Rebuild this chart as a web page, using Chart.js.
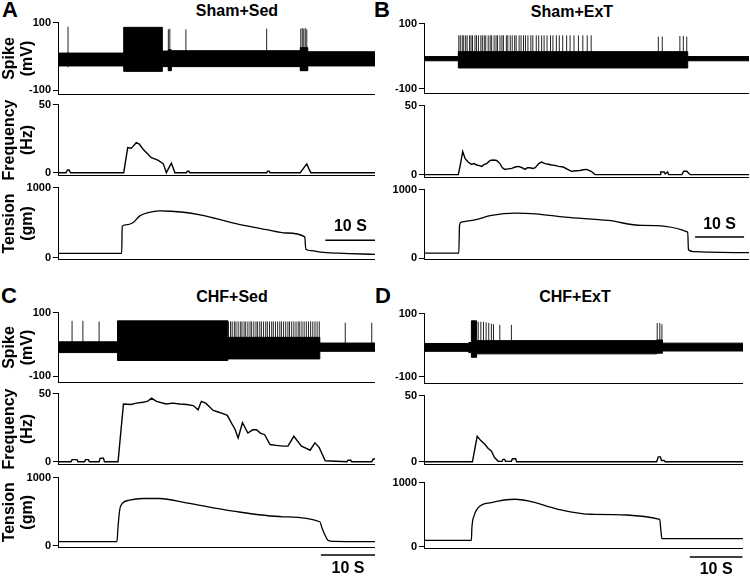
<!DOCTYPE html>
<html>
<head>
<meta charset="utf-8">
<script src="https://cdn.jsdelivr.net/npm/chart.js@4.4.1/dist/chart.umd.min.js"></script>
<style>
body { margin:0; background:#fff; width:750px; height:576px; position:relative; overflow:hidden; font-family:Arial,"Liberation Sans",sans-serif; }
canvas { position:absolute; }
.lbl { position:absolute; font-weight:bold; color:#000; white-space:nowrap; line-height:1; transform:translate(-50%,-50%); }
</style>
</head>
<body>
<div class="lbl" style="left:10px;top:10px;font-size:22px">A</div>
<div class="lbl" style="left:382px;top:10px;font-size:22px">B</div>
<div class="lbl" style="left:9px;top:296px;font-size:22px">C</div>
<div class="lbl" style="left:383px;top:296px;font-size:22px">D</div>
<div class="lbl" style="left:237px;top:11px;font-size:16px">Sham+Sed</div>
<div class="lbl" style="left:572px;top:12px;font-size:16px">Sham+ExT</div>
<div class="lbl" style="left:232px;top:297px;font-size:16px">CHF+Sed</div>
<div class="lbl" style="left:575px;top:297px;font-size:16px">CHF+ExT</div>
<script>
var FONT = 'Arial, "Liberation Sans", sans-serif';

// time (s), upper, lower edge of the raw nerve trace (mV)
var A_BAND = [[0,10,-28],[13.1,86,-44],[20.8,16,-30],[22.0,20,-42],[22.6,17,-30],[48.3,26,-42],[49.8,14,-28],[63.2,14,-28]];
var B_BAND = [[0,-1,-14],[7.0,14,-36],[53.8,-1,-14],[66.3,-1,-14]];
var C_BAND = [[0,8,-26],[11.0,74,-51],[31.4,22,-46],[48.4,4,-22],[58.6,4,-22]];
var D_BAND = [[0,5,-20],[8.5,8,-24],[9.0,77,-39],[10.0,14,-28],[44.2,16,-26],[45.3,6,-19],[60.6,6,-19]];

// single spikes: time (s), top, bottom (mV)
var A_SPIKES = [[2.0,88,-32],[22.0,80,-42],[22.3,82,-42],[25.5,80,-30],[41.6,82,-30],[48.4,82,-42],[48.7,84,-42],[49.0,82,-42],[49.3,84,-42],[49.6,80,-42]];
var B_SPIKES = [[7.1,64],[7.4,64],[7.8,64],[8.1,64],[8.5,64],[8.8,64],[9.3,64],[9.6,64],[9.9,64],[10.4,64],[10.7,64],[11.1,64],[11.6,64],[11.9,64],[12.3,64],[12.6,64],[13.1,64],[13.5,64],[13.8,64],[14.3,64],[14.7,64],[15.0,64],[15.5,64],[15.9,64],[16.2,64],[16.8,64],[17.1,64],[17.6,64],[18.0,64],[18.5,64],[18.8,64],[19.4,64],[19.8,64],[20.3,64],[20.7,64],[21.2,64],[21.8,64],[22.2,64],[22.9,64],[23.4,64],[24.0,64],[24.5,64],[25.1,64],[25.8,64],[26.3,64],[27.0,64],[27.6,64],[28.3,64],[29.1,64],[29.8,64],[30.6,64],[31.5,64],[32.4,64],[33.3,64],[34.1,64],[47.8,60],[48.6,60],[52.2,62],[52.9,62],[53.6,60]];
var C_SPIKES = [[2.6,74],[4.6,74],[7.6,72],[31.5,72],[31.9,72],[32.2,72],[32.6,72],[32.9,72],[33.3,72],[33.7,72],[34.0,72],[34.4,72],[34.7,72],[35.1,72],[35.5,72],[35.8,72],[36.2,72],[36.6,72],[36.9,72],[37.3,72],[37.6,72],[38.0,72],[38.4,72],[38.7,72],[39.1,72],[39.5,72],[39.8,72],[40.2,72],[40.6,72],[41.0,72],[41.3,72],[41.7,72],[42.1,72],[42.5,72],[42.8,72],[43.2,72],[43.6,72],[44.0,72],[44.4,72],[44.7,72],[45.1,72],[45.5,72],[45.9,72],[46.3,72],[46.7,72],[47.1,72],[47.5,72],[47.9,72],[48.3,72],[53.1,68],[58.0,68]];
var D_SPIKES = [[10.3,74],[10.8,74],[11.3,74],[11.8,72],[12.3,70],[12.8,68],[13.2,66],[14.4,64],[16.6,64],[44.3,70],[44.8,70],[45.2,66]];

// discharge frequency: time (s), Hz
var A_FREQ = [[0,0],[1.6,0],[1.9,2],[2.2,2],[2.5,0],[13.1,0],[13.9,18.4],[14.6,18],[15.0,19.5],[15.6,22],[16.2,21],[17.0,17],[17.8,14],[18.6,11],[19.4,10],[20.0,9],[20.6,7.5],[21.0,6.5],[21.6,0],[22.1,3.5],[22.6,7],[23.0,3],[23.3,0],[25.6,0],[25.8,1],[26.1,1],[26.3,0],[41.6,0],[41.8,1],[42.1,1],[42.3,0],[48.3,0],[49.0,3.5],[49.6,6.5],[50.0,3],[50.4,0],[63.2,0]];
var B_FREQ = [[0,0],[7.0,0],[7.35,6],[7.9,16.8],[8.4,11.5],[9.05,9],[9.7,7.4],[10.2,8],[10.75,7],[11.3,6.5],[11.8,6],[12.3,7.5],[12.8,8],[13.5,10.3],[14.2,10.6],[14.8,10.3],[15.5,8],[16.0,5],[16.5,3.8],[17.2,4.2],[17.9,4.5],[18.6,5.5],[19.3,6],[20.0,5],[20.6,3.8],[21.1,5],[21.6,5],[22.2,4.5],[22.7,5],[23.4,8],[24.0,9.1],[24.7,8],[25.4,7.5],[26.0,7],[26.7,6.7],[27.5,6],[28.4,5.5],[29.2,4],[30.1,2.4],[31.0,2.8],[31.8,3],[32.5,3.5],[33.2,3.8],[34.1,2.4],[34.9,0],[48.2,0],[48.3,1.9],[49.0,1.9],[49.2,0.5],[49.7,1.9],[49.9,0],[52.6,0],[53.0,2.5],[53.6,2.5],[54.0,1],[54.3,0],[66.3,0]];
var C_FREQ = [[0,0],[2.4,0],[2.6,1.5],[3.5,1.5],[3.7,0],[4.9,0],[5.1,1.5],[5.6,1.5],[5.8,0],[7.6,0],[7.8,2.5],[8.4,2.5],[8.6,0],[11.1,0],[12.1,42.4],[13.5,42],[14.5,43],[15.7,43.6],[16.6,44.5],[17.3,46.7],[18.2,44.3],[20.0,42.4],[21.2,43],[22.5,42.4],[23.8,42],[25.0,41.2],[25.9,38.1],[26.5,44.3],[27.3,43],[28.7,37.6],[29.6,36.5],[30.5,35.3],[31.3,34],[32.1,28.1],[32.7,24],[33.3,17.4],[34.1,28.6],[35.1,21],[36.0,23.4],[36.7,23.4],[37.4,21],[38.2,19.8],[39.2,12.6],[40.3,12],[41.6,11.4],[42.5,11.4],[43.6,18.6],[45.0,11.4],[45.8,10],[46.6,8.4],[47.5,13.8],[48.3,10.3],[49.4,0.7],[53.4,0],[53.6,1],[54.1,1],[54.3,0],[58.0,0],[58.3,2],[58.6,2]];
var D_FREQ = [[0,0],[9.2,0],[10.1,19.2],[10.8,16],[11.6,13],[12.2,10],[12.8,8.1],[13.4,3.2],[14.1,0.3],[14.8,0.3],[15.0,1.8],[15.3,1.8],[15.5,0.3],[16.6,0.3],[16.8,2.3],[17.4,2.3],[17.6,0],[44.2,0],[44.5,3.7],[44.9,3.7],[45.1,1],[45.6,1],[45.8,0],[60.6,0]];

// muscle tension: time (s), gm
var A_TEN = [[0,66],[12.7,66],[12.8,450],[13.5,470],[15.0,504],[16.3,598],[18.0,645],[20.3,668],[22.5,664],[25.0,650],[28.3,612],[31.5,560],[35.0,496],[38.5,445],[41.6,402],[45.5,355],[49.2,300],[49.4,125],[50.5,105],[52.3,84],[56.0,68],[63.2,52]];
var B_TEN = [[0,73],[7.1,73],[7.25,480],[7.6,524],[8.5,535],[10.4,559],[13.8,622],[18.6,655],[22.7,646],[28.8,597],[37.6,549],[44.4,476],[53.8,379],[53.95,120],[55.0,95],[58.0,85],[66.3,78]];
var C_TEN = [[0,58],[10.9,58],[11.1,278],[11.4,522],[11.9,620],[13.2,668],[15.7,693],[18.8,693],[23.7,629],[32.4,507],[41.6,424],[48.4,351],[48.8,260],[49.2,181],[50.0,73],[51.0,62],[58.6,58]];
var D_TEN = [[0,100],[9.0,100],[9.1,297],[9.5,480],[10.3,610],[12.8,688],[17.3,740],[19.8,714],[25.5,584],[31.8,506],[44.8,428],[44.95,300],[45.2,125],[60.6,125]];

// 10 s scale bars (from, to in s; y and label y in gm)
var A_BAR = {from:53.3, to:63.3, y:252, textY:448};
var B_BAR = {from:55.3, to:65.3, y:306, textY:486};
var C_BAR = {from:48.6, to:58.6, y:-136, textY:-331};
var D_BAR = {from:50.5, to:60.5, y:-161, textY:-364};

var scaleBar = {
    id: 'scaleBar',
    afterDatasetsDraw: function(chart, args, opts) {
        if (!opts || opts.from === undefined) return;
        var xs = chart.scales.x, ys = chart.scales.y, ctx = chart.ctx;
        var x0 = xs.getPixelForValue(opts.from), x1 = xs.getPixelForValue(opts.to);
        var y = ys.getPixelForValue(opts.y);
        ctx.save();
        ctx.strokeStyle = '#000';
        ctx.lineWidth = 1.5;
        ctx.beginPath();
        ctx.moveTo(x0, y);
        ctx.lineTo(x1, y);
        ctx.stroke();
        ctx.fillStyle = '#000';
        ctx.font = 'bold 16px ' + FONT;
        ctx.textAlign = 'center';
        ctx.textBaseline = 'middle';
        ctx.fillText('10 S', (x0 + x1) / 2, ys.getPixelForValue(opts.textY));
        ctx.restore();
    }
};

var panels = [
    {l:0, ax:58, r:375, tmax:63.2, rows:[[22,95],[104,176],[187,259.5]], spikeMin:-112, titles:true,
     band:A_BAND, spikes:A_SPIKES, freq:A_FREQ, ten:A_TEN, bar:A_BAR, padB:8},
    {l:375, ax:424, r:749, tmax:66.3, rows:[[23,94],[105,177.5],[189,259.5]], spikeMin:-114, titles:false,
     band:B_BAND, spikes:B_SPIKES, freq:B_FREQ, ten:B_TEN, bar:B_BAR, padB:8},
    {l:0, ax:58, r:375, tmax:58.6, rows:[[312,383],[393,465],[477,547]], spikeMin:-120, titles:true,
     band:C_BAND, spikes:C_SPIKES, freq:C_FREQ, ten:C_TEN, bar:C_BAR, padB:32},
    {l:375, ax:424, r:743, tmax:60.6, rows:[[313,384],[395,465],[482,547.5]], spikeMin:-122, titles:false,
     band:D_BAND, spikes:D_SPIKES, freq:D_FREQ, ten:D_TEN, bar:D_BAR, padB:32}
];

function pts(list, k) {
    return list.map(function(p) { return {x: p[0], y: p[k]}; });
}

function spikeLines(list) {
    var out = [];
    list.forEach(function(s) {
        var low = s.length > 2 ? s[2] : 0;
        out.push({x: s[0], y: low}, {x: s[0], y: s[1]}, {x: s[0], y: null});
    });
    return out;
}

function addChart(p, row, padB, yMin, yMax, ticks, title, datasets, bar) {
    var top = row[0] - 8;
    var c = document.createElement('canvas');
    c.width = p.r - p.l;
    c.height = Math.round(row[1] - row[0] + 8 + padB);
    c.style.left = p.l + 'px';
    c.style.top = top + 'px';
    document.body.appendChild(c);
    var axisW = p.ax - p.l;
    new Chart(c.getContext('2d'), {
        type: 'line',
        data: {datasets: datasets},
        plugins: [scaleBar],
        options: {
            responsive: false,
            animation: false,
            devicePixelRatio: 1,
            layout: {padding: {top: 8, bottom: padB, left: 0, right: 0}},
            elements: {point: {radius: 0}, line: {tension: 0}},
            plugins: {legend: {display: false}, tooltip: {enabled: false}, scaleBar: bar || false},
            scales: {
                x: {
                    type: 'linear', min: 0, max: p.tmax,
                    ticks: {display: false},
                    grid: {display: false},
                    border: {display: true, color: '#000', width: 1},
                    afterFit: function(s) { s.height = 0; }
                },
                y: {
                    min: yMin, max: yMax,
                    afterBuildTicks: function(s) { s.ticks = ticks.map(function(v) { return {value: v}; }); },
                    ticks: {
                        color: '#000', padding: 2,
                        font: {family: FONT, size: 11, weight: 'bold'},
                        callback: function(v) { return String(v); }
                    },
                    grid: {drawOnChartArea: false, drawTicks: true, tickLength: 5, color: '#000'},
                    border: {display: true, color: '#000', width: 1},
                    title: {
                        display: !!title, text: title || '', color: '#000',
                        font: {family: FONT, size: 16, weight: 'bold', lineHeight: 1.1},
                        padding: {top: 1, bottom: 0}
                    },
                    afterFit: function(s) { s.width = axisW; }
                }
            }
        }
    });
}

panels.forEach(function(p) {
    addChart(p, p.rows[0], 8, p.spikeMin, 100, [-100, 100], p.titles ? ['Spike', '(mV)'] : null, [
        {data: pts(p.band, 1), stepped: 'before', fill: '+1', backgroundColor: '#000', borderColor: '#000', borderWidth: 1},
        {data: pts(p.band, 2), stepped: 'before', fill: false, borderColor: '#000', borderWidth: 1},
        {data: spikeLines(p.spikes), borderColor: '#222', borderWidth: 1, spanGaps: false, fill: false}
    ]);
    addChart(p, p.rows[1], 8, -2, 50, [0, 50], p.titles ? ['Frequency', '(Hz)'] : null, [
        {data: pts(p.freq, 1), borderColor: '#000', borderWidth: 1.4, fill: false}
    ]);
    addChart(p, p.rows[2], p.padB, -20, 1000, [0, 1000], p.titles ? ['Tension', '(gm)'] : null, [
        {data: pts(p.ten, 1), borderColor: '#000', borderWidth: 1.3, fill: false, cubicInterpolationMode: 'monotone'}
    ], p.bar);
});
</script>
</body>
</html>
